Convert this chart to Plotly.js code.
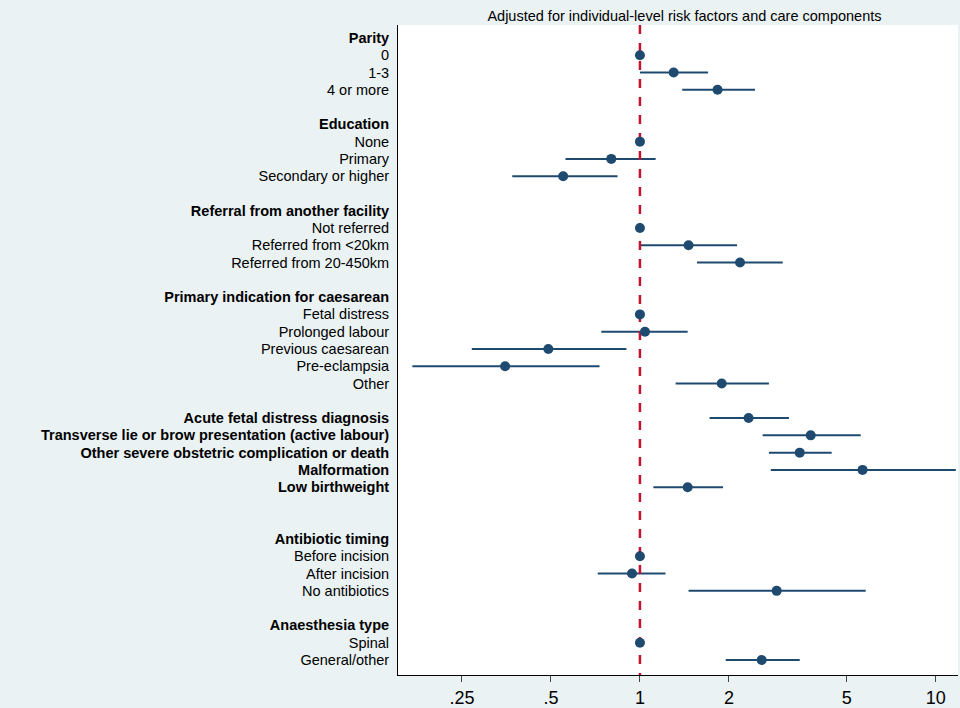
<!DOCTYPE html>
<html>
<head>
<meta charset="utf-8">
<script src="https://cdn.plot.ly/plotly-3.0.1.min.js"></script>
<style>body{margin:0;}</style>
</head>
<body>
<div id="chart" style="width:960px;height:708px;"></div>
<script>
// row labels, top to bottom; "" = spacer, bold = heading
const labels = [
  "Parity", "0", "1-3", "4 or more", "",
  "Education", "None", "Primary", "Secondary or higher", "",
  "Referral from another facility", "Not referred", "Referred from <20km", "Referred from 20-450km", "",
  "Primary indication for caesarean", "Fetal distress", "Prolonged labour", "Previous caesarean", "Pre-eclampsia", "Other", "",
  "Acute fetal distress diagnosis", "Transverse lie or brow presentation (active labour)", "Other severe obstetric complication or death", "Malformation", "Low birthweight", "", "",
  "Antibiotic timing", "Before incision", "After incision", "No antibiotics", "",
  "Anaesthesia type", "Spinal", "General/other"
];
const bold = [0, 5, 10, 15, 22, 23, 24, 25, 26, 29, 34];

// estimates: row, odds ratio, lower, upper (null CI = reference group)
const rows = [1, 2, 3, 6, 7, 8, 11, 12, 13, 16, 17, 18, 19, 20, 22, 23, 24, 25, 26, 30, 31, 32, 35, 36];
const est  = [1, 1.30, 1.83, 1, 0.80, 0.55, 1, 1.46, 2.18, 1, 1.04, 0.49, 0.35, 1.89, 2.33, 3.78, 3.47, 5.66, 1.45, 1, 0.94, 2.90, 1, 2.58];
const lower = [null, 1.0, 1.39, null, 0.56, 0.37, null, 1.0, 1.56, null, 0.74, 0.27, 0.17, 1.32, 1.72, 2.60, 2.73, 2.77, 1.11, null, 0.72, 1.46, null, 1.95];
const upper = [null, 1.70, 2.45, null, 1.13, 0.84, null, 2.13, 3.04, null, 1.45, 0.90, 0.73, 2.73, 3.19, 5.58, 4.45, 11.7, 1.91, null, 1.22, 5.8, null, 3.47];

const tickVals = [0.25, 0.5, 1, 2, 5, 10];
const tickText = [".25", ".5", "1", "2", "5", "10"];

const navy = "#1f4a70";

const ciX = [], ciY = [];
rows.forEach((r, i) => {
  if (lower[i] !== null) {
    ciX.push(lower[i], upper[i], null);
    ciY.push(r, r, null);
  }
});

const traces = [
  {x: ciX, y: ciY, mode: "lines", line: {color: navy, width: 2}, hoverinfo: "skip"},
  {x: [1, 1], y: [-0.75, 36.87], mode: "lines", line: {color: "#c4122f", width: 2.5, dash: "dash"}},
  {x: est, y: rows, mode: "markers", marker: {color: navy, size: 10}}
];

const layout = {
  width: 960, height: 708,
  margin: {l: 398, r: 2, t: 25, b: 33},
  paper_bgcolor: "#eaf2f3",
  plot_bgcolor: "#ffffff",
  showlegend: false,
  font: {family: "Liberation Sans, Arial", color: "#000"},
  title: {text: "Adjusted for individual-level risk factors and care components",
    x: 0.713, xanchor: "center", y: 0.985, yanchor: "top", font: {size: 14.5}},
  xaxis: {type: "log", range: [Math.log10(0.152), Math.log10(11.9)],
    tickvals: tickVals, ticktext: tickText, tickfont: {size: 18},
    ticks: "outside", ticklen: 6, showgrid: false, zeroline: false,
    showline: true, linecolor: "#000", mirror: false},
  yaxis: {range: [36.87, -0.75], tickvals: labels.map((_, i) => i),
    ticktext: labels.map((t, i) => bold.includes(i) ? "<b>" + t.replace("<", "&lt;") + "</b>" : t.replace("<", "&lt;")),
    tickfont: {size: 14.5}, ticks: "", showgrid: false, zeroline: false,
    showline: true, linecolor: "#000", ticklabelstandoff: 5}
};

Plotly.newPlot("chart", traces, layout, {displayModeBar: false});
</script>
</body>
</html>
